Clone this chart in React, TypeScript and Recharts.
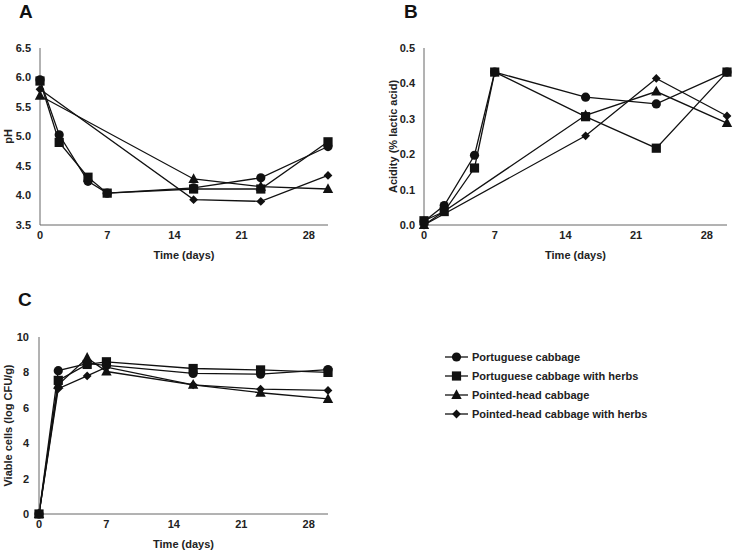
import { LineChart, Line, XAxis, YAxis } from "recharts";

// sampling days
const days = [0, 2, 5, 7, 16, 23, 30];
const daysPointed = [0, 16, 23, 30];
const dayTicks = [0, 7, 14, 21, 28];

const seriesNames = [
  "Portuguese cabbage",
  "Portuguese cabbage with herbs",
  "Pointed-head cabbage",
  "Pointed-head cabbage with herbs",
];

// A - pH
const phPortuguese = [5.96, 5.03, 4.24, 4.04, 4.13, 4.3, 4.83];
const phPortugueseHerbs = [5.94, 4.9, 4.31, 4.04, 4.11, 4.11, 4.91];
const phPointed = [5.69, 4.28, 4.15, 4.11];
const phPointedHerbs = [5.8, 3.93, 3.9, 4.34];
const phTicks = [3.5, 4.0, 4.5, 5.0, 5.5, 6.0, 6.5];

// B - acidity
const acPortuguese = [0.01, 0.055, 0.197, 0.432, 0.361, 0.342, 0.432];
const acPortugueseHerbs = [0.012, 0.038, 0.161, 0.432, 0.306, 0.217, 0.432];
const acPointed = [0.0, 0.31, 0.377, 0.288];
const acPointedHerbs = [0.0, 0.252, 0.414, 0.308];
const acTicks = [0, 0.1, 0.2, 0.3, 0.4, 0.5];

// C - viable cells
const vcPortuguese = [0, 8.1, 8.5, 8.4, 7.94, 7.9, 8.16];
const vcPortugueseHerbs = [0, 7.55, 8.45, 8.6, 8.22, 8.14, 8.0];
const vcPointed = [0, 7.3, 8.82, 8.05, 7.3, 6.85, 6.5];
const vcPointedHerbs = [0, 7.08, 7.8, 8.3, 7.3, 7.05, 6.98];
const vcTicks = [0, 2, 4, 6, 8, 10];

const FONT = "'Liberation Sans', Arial, sans-serif";
const AXIS = "#666";
const INK = "#111";

type Shape = "circle" | "square" | "triangle" | "diamond";

const toRows = (xs: number[], ys: number[]) => xs.map((day, i) => ({ day, value: ys[i] }));

function Marker({ shape, cx, cy }: { shape: Shape; cx: number; cy: number }) {
  if (shape === "circle") return <circle cx={cx} cy={cy} r={4.6} fill={INK} />;
  if (shape === "square") return <rect x={cx - 4.6} y={cy - 4.6} width={9.2} height={9.2} fill={INK} />;
  if (shape === "triangle")
    return <polygon points={`${cx},${cy - 5.8} ${cx - 5.2},${cy + 4} ${cx + 5.2},${cy + 4}`} fill={INK} />;
  return <polygon points={`${cx},${cy - 4.4} ${cx + 4.4},${cy} ${cx},${cy + 4.4} ${cx - 4.4},${cy}`} fill={INK} />;
}

const dotFor = (shape: Shape) => (p: any) =>
  p.cx == null ? <g key={p.index} /> : <Marker key={`${shape}-${p.index}`} shape={shape} cx={p.cx} cy={p.cy} />;

const tickStyle = { fontFamily: FONT, fontSize: 11, fontWeight: 700, fill: "#222" };

function YTitle({ value, cx }: { value: string; cx: number }) {
  return (props: any) => {
    const vb = props.viewBox;
    const cy = vb.y + vb.height / 2;
    return (
      <text
        x={cx}
        y={cy}
        transform={`rotate(-90 ${cx} ${cy})`}
        textAnchor="middle"
        dominantBaseline="central"
        style={tickStyle}
      >
        {value}
      </text>
    );
  };
}

const xTitle = (props: any) => {
  const vb = props.viewBox;
  return (
    <text
      x={vb.x + vb.width / 2}
      y={vb.y + 30}
      textAnchor="middle"
      dominantBaseline="central"
      style={tickStyle}
    >
      Time (days)
    </text>
  );
};

function Panel({
  width,
  height,
  margin,
  yWidth,
  xHeight,
  yDomain,
  yTicks,
  fmt,
  yTitle,
  yTitleX,
  yTickMargin,
  series,
}: {
  width: number;
  height: number;
  margin: any;
  yWidth: number;
  xHeight: number;
  yDomain: [number, number];
  yTicks: number[];
  fmt: (v: number) => string;
  yTitle: string;
  yTitleX: number;
  yTickMargin: number;
  series: { shape: Shape; rows: { day: number; value: number }[] }[];
}) {
  return (
    <LineChart width={width} height={height} margin={margin}>
      <XAxis
        dataKey="day"
        type="number"
        domain={[0, 30]}
        ticks={dayTicks}
        allowDuplicatedCategory={false}
        tickLine={false}
        tickSize={0}
        tickMargin={6}
        height={xHeight}
        stroke={AXIS}
        tick={tickStyle}
        label={xTitle}
      />
      <YAxis
        type="number"
        domain={yDomain}
        ticks={yTicks}
        tickFormatter={fmt}
        tickLine={false}
        tickSize={0}
        tickMargin={yTickMargin}
        width={yWidth}
        stroke={AXIS}
        tick={tickStyle}
        label={YTitle({ value: yTitle, cx: yTitleX })}
      />
      {series.map((s) => (
        <Line
          key={s.shape}
          data={s.rows}
          dataKey="value"
          type="linear"
          stroke={INK}
          strokeWidth={1.3}
          dot={dotFor(s.shape)}
          activeDot={false}
          isAnimationActive={false}
        />
      ))}
    </LineChart>
  );
}

const legendShapes: Shape[] = ["circle", "square", "triangle", "diamond"];

export default function App() {
  const phSeries = [
    { shape: "triangle" as Shape, rows: toRows(daysPointed, phPointed) },
    { shape: "diamond" as Shape, rows: toRows(daysPointed, phPointedHerbs) },
    { shape: "circle" as Shape, rows: toRows(days, phPortuguese) },
    { shape: "square" as Shape, rows: toRows(days, phPortugueseHerbs) },
  ];
  const acSeries = [
    { shape: "triangle" as Shape, rows: toRows(daysPointed, acPointed) },
    { shape: "diamond" as Shape, rows: toRows(daysPointed, acPointedHerbs) },
    { shape: "circle" as Shape, rows: toRows(days, acPortuguese) },
    { shape: "square" as Shape, rows: toRows(days, acPortugueseHerbs) },
  ];
  const vcSeries = [
    { shape: "triangle" as Shape, rows: toRows(days, vcPointed) },
    { shape: "diamond" as Shape, rows: toRows(days, vcPointedHerbs) },
    { shape: "square" as Shape, rows: toRows(days, vcPortugueseHerbs) },
    { shape: "circle" as Shape, rows: toRows(days, vcPortuguese) },
  ];

  return (
    <div style={{ position: "absolute", left: 0, top: 0, width: 733, height: 551, background: "#fff" }}>
      <div style={{ position: "absolute", left: 0, top: 0 }}>
        <Panel
          width={340}
          height={270}
          margin={{ top: 48, right: 12, bottom: 0, left: 0 }}
          yWidth={40}
          xHeight={45}
          yDomain={[3.5, 6.5]}
          yTicks={phTicks}
          fmt={(v) => v.toFixed(1)}
          yTitle="pH"
          yTitleX={8}
          yTickMargin={9}
          series={phSeries}
        />
      </div>
      <div style={{ position: "absolute", left: 366, top: 0 }}>
        <Panel
          width={367}
          height={270}
          margin={{ top: 48, right: 6, bottom: 0, left: 0 }}
          yWidth={58}
          xHeight={45}
          yDomain={[0, 0.5]}
          yTicks={acTicks}
          fmt={(v) => v.toFixed(1)}
          yTitle="Acidity (% lactic acid)"
          yTitleX={27}
          yTickMargin={9}
          series={acSeries}
        />
      </div>
      <div style={{ position: "absolute", left: 0, top: 290 }}>
        <Panel
          width={340}
          height={270}
          margin={{ top: 47, right: 12, bottom: 0, left: 0 }}
          yWidth={39}
          xHeight={46}
          yDomain={[0, 10]}
          yTicks={vcTicks}
          fmt={(v) => String(v)}
          yTitle="Viable cells (log CFU/g)"
          yTitleX={8}
          yTickMargin={10}
          series={vcSeries}
        />
      </div>
      <svg width={733} height={551} style={{ position: "absolute", left: 0, top: 0, pointerEvents: "none" }}>
        <text x={19} y={18} style={{ fontFamily: FONT, fontSize: 19, fontWeight: 700, fill: INK }}>A</text>
        <text x={404} y={18} style={{ fontFamily: FONT, fontSize: 19, fontWeight: 700, fill: INK }}>B</text>
        <text x={18} y={306} style={{ fontFamily: FONT, fontSize: 19, fontWeight: 700, fill: INK }}>C</text>
        {seriesNames.map((name, i) => {
          const y = 357 + i * 19;
          return (
            <g key={name}>
              <line x1={445} x2={468} y1={y} y2={y} stroke={INK} strokeWidth={1.3} />
              <Marker shape={legendShapes[i]} cx={456.5} cy={y} />
              <text x={472} y={y} dominantBaseline="central" style={tickStyle}>
                {name}
              </text>
            </g>
          );
        })}
      </svg>
    </div>
  );
}
